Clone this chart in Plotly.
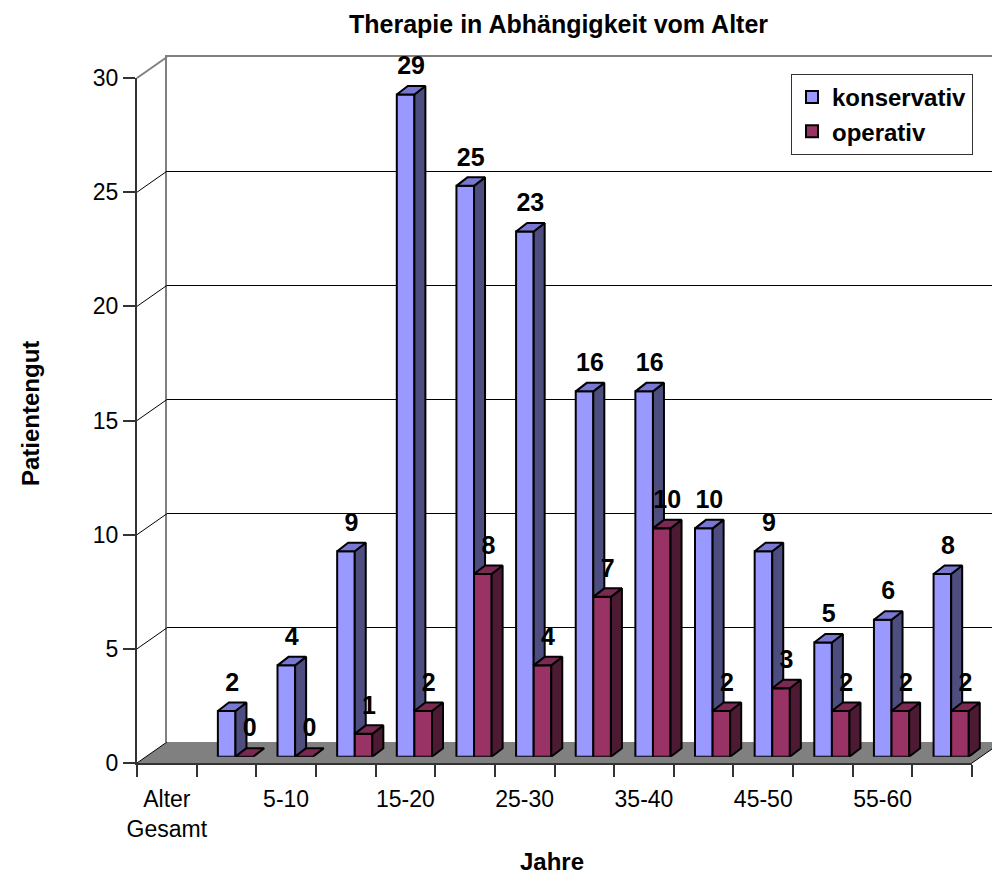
import plotly.graph_objects as go

# ---- data ---------------------------------------------------------------
categories = ["Alter Gesamt", "0-5", "5-10", "10-15", "15-20", "20-25", "25-30",
              "30-35", "35-40", "40-45", "45-50", "50-55", "55-60", "60-65"]
konservativ = [None, 2, 4, 9, 29, 25, 23, 16, 16, 10, 9, 5, 6, 8]
operativ = [None, 0, 0, 1, 2, 8, 4, 7, 10, 2, 3, 2, 2, 2]
y_ticks = [0, 5, 10, 15, 20, 25, 30]

# ---- page geometry (pixels) -------------------------------------------
W, H = 992, 880
FRONT_LEFT, FRONT_RIGHT = 137, 972     # front x axis
FRONT_BASE, FRONT_TOP = 763, 78        # y of value 0 / 30 on the front axis
WALL_DX, WALL_DY = 30, 21              # depth of the chart box
BAR_DEPTH = 0.3                        # where the bars stand within the floor
BAR_DX_PX, BAR_DY_PX = 11, 8.5         # thickness of each 3D bar
Y_MAX = 30
BAR_Y_MAX = 33                         # head room for the value labels

FONT = "Arial, Liberation Sans, sans-serif"

n = len(categories)
pitch = (FRONT_RIGHT - FRONT_LEFT) / n
unit = (FRONT_BASE - FRONT_TOP) / Y_MAX


def px(x):
    return x / W


def py(y):
    return 1 - y / H


bar_sx, bar_sy = WALL_DX * BAR_DEPTH, WALL_DY * BAR_DEPTH
bar_w = 0.295                       # width of one bar in category units
dx = BAR_DX_PX / pitch              # depth offsets in data units
dy = BAR_DY_PX / unit
label_lift = 18 / unit

COL_K = dict(front="#9999FF", top="#7878D2", side="#4D4D80")
COL_O = dict(front="#993366", top="#7A2952", side="#4D1A33")

fig = go.Figure()

# empty traces so the back-wall and front-axis subplots get drawn
fig.add_trace(go.Scatter(x=[None], y=[None], xaxis="x", yaxis="y",
                         showlegend=False, hoverinfo="skip"))
fig.add_trace(go.Scatter(x=[None], y=[None], xaxis="x3", yaxis="y3",
                         showlegend=False, hoverinfo="skip"))

xs = list(range(n))

# ---- front faces of the bars ------------------------------------------
fig.add_trace(go.Bar(
    x=xs, y=konservativ, name="konservativ", width=bar_w, offset=-bar_w,
    marker=dict(color=COL_K["front"], line=dict(color="black", width=2)),
    xaxis="x2", yaxis="y2", hoverinfo="skip"))
fig.add_trace(go.Bar(
    x=xs, y=operativ, name="operativ", width=bar_w, offset=0,
    marker=dict(color=COL_O["front"], line=dict(color="black", width=2)),
    xaxis="x2", yaxis="y2", hoverinfo="skip"))


def faces(values, left_of, clip_below=None):
    """Top and side parallelograms for a series of bars."""
    top_x, top_y, side_x, side_y = [], [], [], []
    for i in xs:
        v = values[i]
        if v is None:
            continue
        x0 = left_of(i)
        x1 = x0 + bar_w
        top_x += [x0, x1, x1 + dx, x0 + dx, x0, None]
        top_y += [v, v, v + dy, v + dy, v, None]
        lo = 0 if clip_below is None else (clip_below[i] or 0)
        side_x += [x1, x1 + dx, x1 + dx, x1, x1, None]
        side_y += [lo, max(lo, dy), v + dy, v, lo, None]
    return top_x, top_y, side_x, side_y


def poly(x, y, color):
    return go.Scatter(
        x=x, y=y, mode="lines", fill="toself", fillcolor=color,
        line=dict(color="black", width=2), xaxis="x2", yaxis="y2",
        showlegend=False, hoverinfo="skip")


kt_x, kt_y, ks_x, ks_y = faces(konservativ, lambda i: i - bar_w, clip_below=operativ)
ot_x, ot_y, os_x, os_y = faces(operativ, lambda i: i)
fig.add_trace(poly(ks_x, ks_y, COL_K["side"]))
fig.add_trace(poly(kt_x, kt_y, COL_K["top"]))
fig.add_trace(poly(os_x, os_y, COL_O["side"]))
fig.add_trace(poly(ot_x, ot_y, COL_O["top"]))

# ---- value labels -------------------------------------------------------
lab_x, lab_y, lab_t = [], [], []
for i in xs:
    k, o = konservativ[i], operativ[i]
    if k is not None:
        lab_x.append(i - bar_w / 2 + dx / 2)
        lab_y.append(k + dy + label_lift)
        lab_t.append(str(k))
    if o is not None:
        lab_x.append(i + bar_w / 2 + dx / 2)
        lab_y.append(o + dy + label_lift)
        lab_t.append(str(o))
fig.add_trace(go.Scatter(
    x=lab_x, y=lab_y, text=lab_t, mode="text", textposition="middle center",
    textfont=dict(family=FONT, size=25, color="black", weight="bold"),
    xaxis="x2", yaxis="y2", showlegend=False, hoverinfo="skip", cliponaxis=False))

# ---- axes ---------------------------------------------------------------
back_base, back_top = FRONT_BASE - WALL_DY, FRONT_TOP - WALL_DY
bar_base = FRONT_BASE - bar_sy
layout_axes = dict(
    # back wall with its horizontal gridlines
    xaxis=dict(domain=[px(FRONT_LEFT + WALL_DX), 1], range=[0, 1], anchor="y",
               side="top", showline=True, linecolor="#808080", linewidth=2,
               showgrid=False, zeroline=False, showticklabels=False, ticks="",
               automargin=False),
    yaxis=dict(domain=[py(back_base), py(back_top)], range=[0, Y_MAX], anchor="x",
               tickvals=[t for t in y_ticks if 0 < t < Y_MAX], showticklabels=False,
               ticks="", showgrid=True, gridcolor="black", gridwidth=1,
               showline=True, linecolor="#808080", linewidth=2, zeroline=False,
               automargin=False),
    # bars, standing a little way into the floor
    xaxis2=dict(domain=[px(FRONT_LEFT + bar_sx), px(FRONT_RIGHT + bar_sx)],
                range=[-0.5, n - 0.5], anchor="y2", visible=False, automargin=False),
    yaxis2=dict(domain=[py(bar_base), py(bar_base - BAR_Y_MAX * unit)],
                range=[0, BAR_Y_MAX], anchor="x2", visible=False, automargin=False),
    # front axes carrying ticks and labels
    xaxis3=dict(domain=[px(FRONT_LEFT), px(FRONT_RIGHT)], range=[-0.5, n - 0.5],
                anchor="y3", tickvals=xs[::2],
                ticktext=[c.replace(" ", "<br>") for c in categories[::2]],
                ticks="outside", ticklen=14, tickcolor="rgba(0,0,0,0)",
                tickfont=dict(family=FONT, size=23, color="black"),
                showline=True, linecolor="#333333", linewidth=2,
                showgrid=False, zeroline=False, automargin=False,
                minor=dict(tickvals=[i - 0.5 for i in range(n + 1)], ticks="outside",
                           ticklen=12, tickcolor="#333333", tickwidth=1.5, showgrid=False)),
    yaxis3=dict(domain=[py(FRONT_BASE), py(FRONT_TOP)], range=[0, Y_MAX], anchor="x3",
                tickvals=y_ticks, ticks="outside", ticklen=12, tickcolor="#333333",
                tickwidth=1.5, tickfont=dict(family=FONT, size=23, color="black"),
                showline=True, linecolor="#333333", linewidth=2,
                showgrid=False, zeroline=False, automargin=False),
)

# ---- floor and the slanted gridlines joining front axis and back wall ---
shapes = [dict(
    type="path", xref="paper", yref="paper", layer="below",
    path=(f"M {px(FRONT_LEFT)},{py(FRONT_BASE)} L {px(FRONT_RIGHT)},{py(FRONT_BASE)} "
          f"L {px(FRONT_RIGHT + WALL_DX)},{py(back_base)} L {px(FRONT_LEFT + WALL_DX)},{py(back_base)} Z"),
    fillcolor="#808080", line=dict(width=0))]
shapes.append(dict(type="line", xref="paper", yref="paper",
                   x0=px(FRONT_RIGHT), y0=py(FRONT_BASE),
                   x1=px(FRONT_RIGHT + WALL_DX), y1=py(back_base),
                   line=dict(color="black", width=1)))
for t in y_ticks:
    yf = FRONT_BASE - t * unit
    shapes.append(dict(type="line", xref="paper", yref="paper",
                       x0=px(FRONT_LEFT), y0=py(yf),
                       x1=px(FRONT_LEFT + WALL_DX), y1=py(yf - WALL_DY),
                       line=dict(color="#808080" if t == Y_MAX else "black",
                                 width=2 if t == Y_MAX else 1)))

annotations = [
    dict(text="<b>Therapie in Abhängigkeit vom Alter</b>", x=px(558), y=py(24),
         xref="paper", yref="paper", showarrow=False, xanchor="center", yanchor="middle",
         font=dict(family=FONT, size=25, color="black")),
    dict(text="<b>Patientengut</b>", x=px(30), y=py(414), textangle=-90,
         xref="paper", yref="paper", showarrow=False, xanchor="center", yanchor="middle",
         font=dict(family=FONT, size=24, color="black")),
    dict(text="<b>Jahre</b>", x=px(552), y=py(861),
         xref="paper", yref="paper", showarrow=False, xanchor="center", yanchor="middle",
         font=dict(family=FONT, size=24, color="black")),
]

fig.update_layout(
    width=W, height=H, margin=dict(l=0, r=0, t=0, b=0, autoexpand=False),
    paper_bgcolor="white", plot_bgcolor="rgba(0,0,0,0)",
    barmode="overlay", shapes=shapes, annotations=annotations,
    legend=dict(x=px(791), y=py(74), xanchor="left", yanchor="top",
                bgcolor="white", bordercolor="#333333", borderwidth=1,
                font=dict(family=FONT, size=24, color="black", weight="bold"),
                traceorder="normal", itemclick=False),
    font=dict(family=FONT, color="black"),
    **layout_axes,
)

fig.write_html("out.html")
